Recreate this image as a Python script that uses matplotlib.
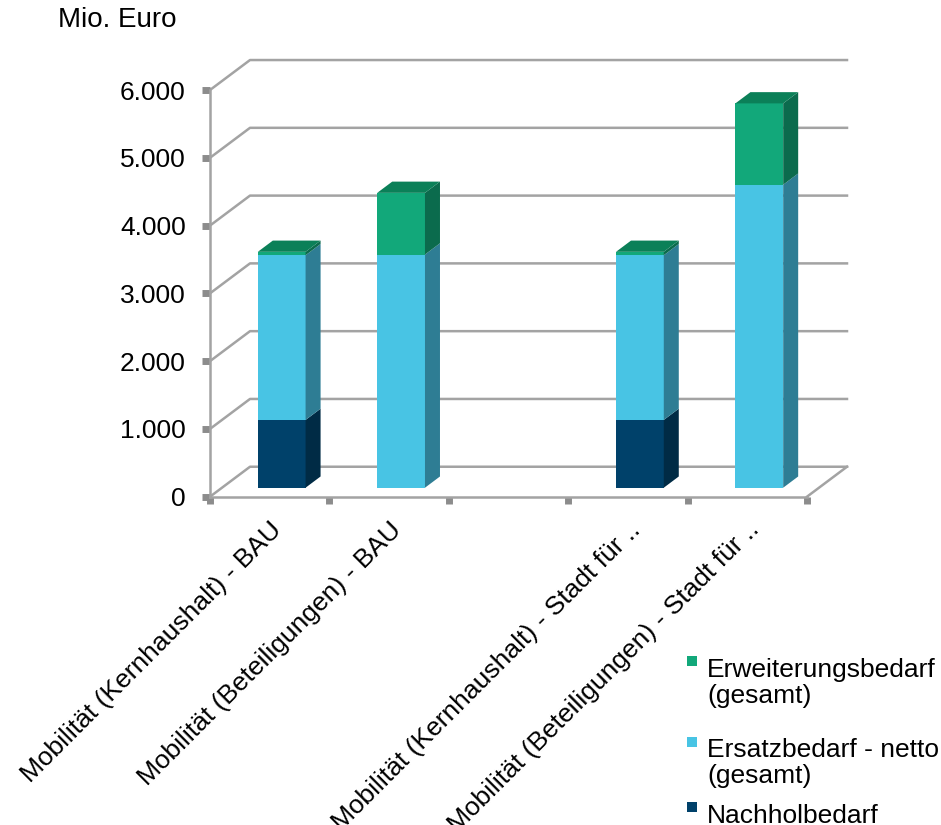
import numpy as np
import matplotlib.pyplot as plt
from matplotlib.patches import Polygon, Rectangle
from matplotlib.ticker import FuncFormatter

plt.rcParams['font.family'] = ['Liberation Sans', 'DejaVu Sans']

# data (Mio. Euro)
categories = ["Mobilität (Kernhaushalt) - BAU",
              "Mobilität (Beteiligungen) - BAU",
              "",
              "Mobilität (Kernhaushalt) - Stadt für ..",
              "Mobilität (Beteiligungen) - Stadt für .."]
nachholbedarf = [1000, 0, 0, 1000, 0]
ersatzbedarf = [2430, 3440, 0, 2430, 4470]
erweiterungsbedarf = [50, 910, 0, 50, 1200]
series_names = ["Nachholbedarf", "Ersatzbedarf - netto\n(gesamt)", "Erweiterungsbedarf\n(gesamt)"]
y_ticks = [0, 1000, 2000, 3000, 4000, 5000, 6000]

front_colors = ['#00416A', '#48C4E4', '#12A87A']
side_colors = ['#002B45', '#2E7D94', '#0B6B4D']
top_colors = ['#003352', '#3AA5C0', '#0B8058']
grid_c = '#A3A3A3'

# fake 3d: depth of the plot box, in data units
depth_x = 0.335
depth_y = 442
bar_off = 0.3    # front face of the bars sits this far into the depth
bar_len = 0.375  # depth of the bars
bar_w = 0.4

W, H = 941, 825
fig = plt.figure(figsize=(W / 100, H / 100), dpi=100)
ax = fig.add_axes([210 / W, 1 - 496.7 / H, 597 / W, 406.7 / H])
n = len(categories)
ax.set_xlim(0, n)
ax.set_ylim(0, 6000)

# walls and floor
for v in y_ticks:
    ax.plot([0, depth_x, n + depth_x], [v, v + depth_y, v + depth_y],
            color=grid_c, lw=1.8, clip_on=False, zorder=1)
ax.plot([n, n + depth_x], [0, depth_y], color=grid_c, lw=1.8, clip_on=False, zorder=1)

# stacked bars
stack = np.array([nachholbedarf, ersatzbedarf, erweiterungsbedarf], dtype=float)
x = np.arange(n) + 0.5 + bar_off * depth_x
sx, sy = bar_len * depth_x, bar_len * depth_y
bottoms = np.full(n, bar_off * depth_y)
for k in range(len(stack)):
    vals = stack[k]
    ax.bar(x, vals, bar_w, bottom=bottoms, color=front_colors[k], lw=0, zorder=3)
    for i in range(n):
        if vals[i] <= 0:
            continue
        xr = x[i] + bar_w / 2
        b, t = bottoms[i], bottoms[i] + vals[i]
        ax.add_patch(Polygon([(xr, b), (xr + sx, b + sy), (xr + sx, t + sy), (xr, t)],
                             closed=True, fc=side_colors[k], lw=0, zorder=3))
    bottoms = bottoms + vals

for i in range(n):
    nz = np.nonzero(stack[:, i])[0]
    if len(nz) == 0:
        continue
    k = nz[-1]
    xl, xr, t = x[i] - bar_w / 2, x[i] + bar_w / 2, bottoms[i]
    ax.add_patch(Polygon([(xl, t), (xr, t), (xr + sx, t + sy), (xl + sx, t + sy)],
                         closed=True, fc=top_colors[k], lw=0, zorder=3))

# axes styling
for s in ['top', 'right']:
    ax.spines[s].set_visible(False)
for s in ['left', 'bottom']:
    ax.spines[s].set_color(grid_c)
    ax.spines[s].set_linewidth(1.8)

ax.set_yticks(y_ticks)
ax.yaxis.set_major_formatter(FuncFormatter(lambda v, p: f"{int(v):,}".replace(",", ".")))
ax.tick_params(axis='y', length=5.5, width=5, color='#8C8C8C', pad=12, labelsize=19)

ax.set_xticks(np.arange(n + 1))
ax.set_xticklabels([])
ax.set_xticks(np.arange(n) + 0.5, minor=True)
ax.set_xticklabels(categories, minor=True)
ax.tick_params(axis='x', which='major', length=5, width=5, color='#8C8C8C')
ax.tick_params(axis='x', which='minor', length=0, pad=15, labelsize=19)
plt.setp(ax.get_xticklabels(minor=True), rotation=45, ha='right', rotation_mode='anchor')

fig.text(58 / W, 1 - 20 / H, "Mio. Euro", fontsize=20, va='center', ha='left')

# legend (top entry first, as in the original), one text per line
marker_y = [661, 742, 807]
text_base = [677, 757, 823]
line_gap = 26
for j, k in enumerate(range(len(series_names) - 1, -1, -1)):
    fig.add_artist(Rectangle((687 / W, 1 - (marker_y[j] + 5) / H), 10 / W, 10 / H,
                             transform=fig.transFigure, fc=front_colors[k], lw=0))
    for m, line in enumerate(series_names[k].split("\n")):
        fig.text(707 / W, 1 - (text_base[j] + m * line_gap) / H, line, fontsize=19,
                 va='baseline', ha='left')

fig.savefig('out.png', dpi=100)
